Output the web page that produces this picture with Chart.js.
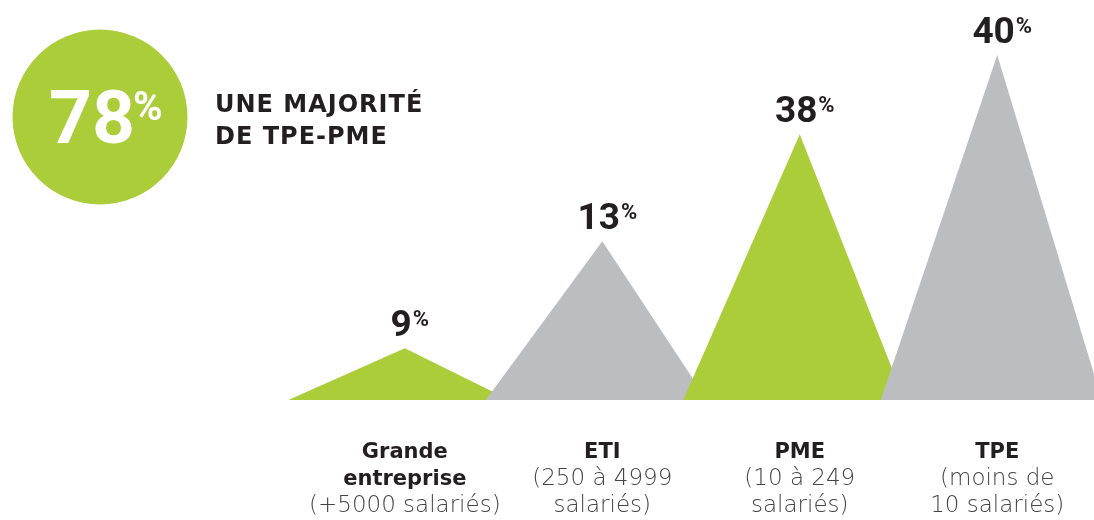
<!DOCTYPE html>
<html lang="fr">
<head>
<meta charset="utf-8">
<title>Répartition par taille d'entreprise</title>
<script src="https://cdn.jsdelivr.net/npm/chart.js@4/dist/chart.umd.min.js"></script>
<style>
  html, body { margin: 0; padding: 0; background: #ffffff; }
  #wrap { position: relative; width: 1094px; height: 520px; }
</style>
</head>
<body>
<div id="wrap"><canvas id="c" width="1094" height="520"></canvas></div>
<script>
// ---- data ----
const categories = ['Grande entreprise', 'ETI', 'PME', 'TPE'];
const nameLines = [['Grande', 'entreprise'], ['ETI'], ['PME'], ['TPE']];
const detailLines = [['(+5000 salariés)'], ['(250 à 4999', 'salariés)'], ['(10 à 249', 'salariés)'], ['(moins de', '10 salariés)']];
const shareValues = [9, 13, 38, 40];          // % shown above each peak
const peakHeights = [15, 46, 77, 100];        // drawn peak height, relative to the tallest
const headlineValue = 78;
const headlineLines = ['UNE MAJORITÉ', 'DE TPE-PME'];

// ---- styles ----
const GREEN = '#abcd3a';
const GREY = '#bcbdc1';
const DARK = '#231f20';
const SOFT = '#454547';
const peakColors = [GREEN, GREY, GREEN, GREY];
const HALF_LEFT = 0.59, HALF_RIGHT = 0.53;   // triangle half-widths in category units

const datasets = categories.map((name, i) => ({
  label: name,
  data: [
    { x: i - HALF_LEFT, y: 0 },
    { x: i, y: peakHeights[i] },
    { x: i + HALF_RIGHT, y: 0 }
  ],
  backgroundColor: peakColors[i],
  borderColor: peakColors[i],
  borderWidth: 0,
  pointRadius: 0,
  tension: 0,
  fill: 'origin',
  order: categories.length - i
}));

const overlay = {
  id: 'overlay',
  afterDatasetsDraw(chart) {
    const ctx = chart.ctx;
    const xs = chart.scales.x, ys = chart.scales.y;
    const base = ys.getPixelForValue(0);
    ctx.save();

    // value labels above each peak
    shareValues.forEach((v, i) => {
      const px = xs.getPixelForValue(i);
      const py = ys.getPixelForValue(peakHeights[i]);
      const numFont = '700 37px Roboto';
      const pctFont = '700 22px Roboto';
      ctx.font = numFont;
      const nw = ctx.measureText(String(v)).width;
      ctx.font = pctFont;
      const pw = ctx.measureText('%').width;
      const total = nw + 1 + pw;
      const left = px + 5 - total / 2;
      const baseline = py - 12;
      ctx.fillStyle = DARK;
      ctx.textAlign = 'left';
      ctx.textBaseline = 'alphabetic';
      ctx.font = numFont;
      ctx.fillText(String(v), left, baseline);
      ctx.font = pctFont;
      ctx.fillText('%', left + nw + 1, baseline - 10);
    });

    // category labels
    categories.forEach((name, i) => {
      const px = xs.getPixelForValue(i);
      let y = base + 58;
      ctx.textAlign = 'center';
      ctx.textBaseline = 'alphabetic';
      ctx.fillStyle = DARK;
      ctx.font = '700 21px "DejaVu Sans"';
      nameLines[i].forEach(l => { ctx.fillText(l, px, y); y += 27; });
      ctx.fillStyle = SOFT;
      ctx.font = '200 23px "DejaVu Sans"';
      detailLines[i].forEach(l => { ctx.fillText(l, px, y); y += 27; });
    });

    // headline badge
    ctx.fillStyle = GREEN;
    ctx.beginPath();
    ctx.arc(100, 117, 87.5, 0, Math.PI * 2);
    ctx.fill();
    ctx.fillStyle = '#ffffff';
    ctx.textAlign = 'left';
    ctx.font = '700 75px Roboto';
    const hv = String(headlineValue);
    const hw = ctx.measureText(hv).width;
    ctx.fillText(hv, 49, 143);
    ctx.font = '700 40px Roboto';
    ctx.fillText('%', 49 + hw - 2, 120);

    // headline text
    ctx.fillStyle = DARK;
    ctx.font = '700 24px "DejaVu Sans"';
    ctx.letterSpacing = '1px';
    headlineLines.forEach((l, k) => ctx.fillText(l, 215, 112 + k * 32));
    ctx.letterSpacing = '0px';

    ctx.restore();
  }
};

new Chart(document.getElementById('c'), {
  type: 'line',
  data: { datasets },
  options: {
    responsive: false,
    animation: false,
    devicePixelRatio: 1,
    layout: { padding: 0 },
    scales: {
      x: { type: 'linear', display: false, min: -2.05, max: 3.49 },
      y: { type: 'linear', display: false, min: -34.78, max: 115.94 }
    },
    plugins: {
      legend: { display: false },
      tooltip: { enabled: false },
      title: { display: false }
    }
  },
  plugins: [overlay]
});
</script>
</body>
</html>
